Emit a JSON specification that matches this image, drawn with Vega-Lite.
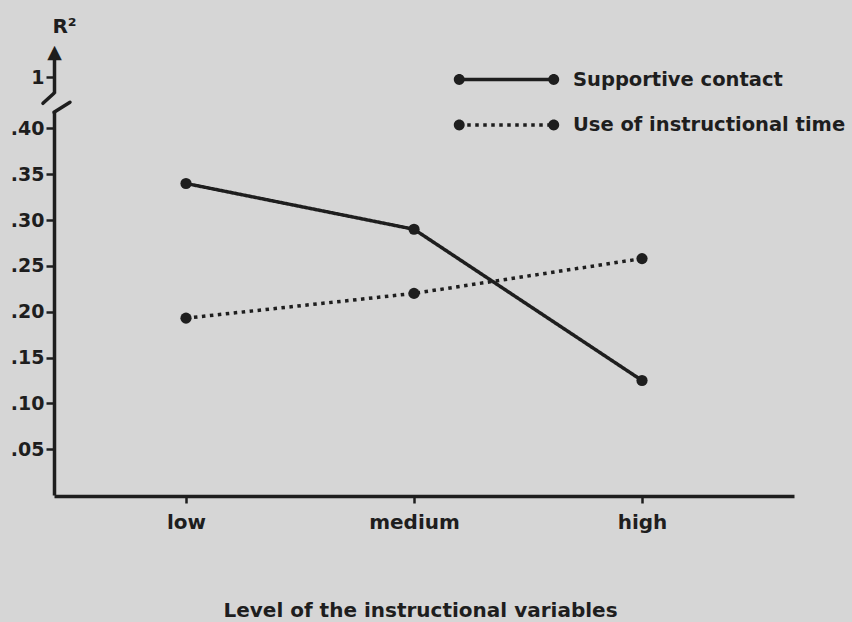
{
  "$schema": "https://vega.github.io/schema/vega-lite/v6.json",
  "width": 740,
  "height": 455,
  "autosize": {"type": "none"},
  "padding": {"left": 54, "top": 40, "right": 58, "bottom": 127},
  "background": "#d6d6d6",
  "config": {"view": {"stroke": null}, "font": "DejaVu Sans"},
  "data": {
    "values": [
      {"level": "low", "variable": "Supportive contact", "r2": 0.34},
      {"level": "medium", "variable": "Supportive contact", "r2": 0.29},
      {"level": "high", "variable": "Supportive contact", "r2": 0.125},
      {"level": "low", "variable": "Use of instructional time", "r2": 0.193},
      {"level": "medium", "variable": "Use of instructional time", "r2": 0.22},
      {"level": "high", "variable": "Use of instructional time", "r2": 0.258}
    ]
  },
  "resolve": {"scale": {"y": "independent", "x": "independent"}, "axis": {"y": "independent", "x": "independent"}},
  "layer": [
    {
      "layer": [
        {
          "mark": {"type": "line", "strokeWidth": 3.5, "color": "#1e1e1e"},
          "encoding": {
            "x": {
              "field": "level",
              "type": "ordinal",
              "sort": ["low", "medium", "high"],
              "scale": {"type": "point", "padding": 0.6228, "align": 0.4648},
              "axis": {
                "title": "Level of the instructional variables",
                "labelAngle": 0,
                "domainWidth": 3.5,
                "domainColor": "#1e1e1e",
                "tickSize": 7,
                "tickWidth": 2.5,
                "tickColor": "#1e1e1e",
                "labelFont": "DejaVu Sans",
                "labelFontSize": 20,
                "labelFontWeight": "bold",
                "labelColor": "#1e1e1e",
                "labelPadding": 9,
                "titleFont": "DejaVu Sans",
                "titleFontSize": 20,
                "titleFontWeight": "bold",
                "titleColor": "#1e1e1e",
                "titleX": 366,
                "titleY": 120,
                "titleBaseline": "alphabetic",
                "titleAlign": "center",
                "offset": 1
              }
            },
            "y": {
              "field": "r2",
              "type": "quantitative",
              "scale": {"domain": [0, 0.418], "range": [455, 72], "nice": false, "zero": false},
              "axis": {
                "orient": "left",
                "values": [0.05, 0.1, 0.15, 0.2, 0.25, 0.3, 0.35, 0.4],
                "labelExpr": "substring(format(datum.value, '.2f'), 1)",
                "grid": false,
                "domainWidth": 3.5,
                "domainColor": "#1e1e1e",
                "tickSize": 8,
                "tickWidth": 2.5,
                "tickColor": "#1e1e1e",
                "labelFont": "DejaVu Sans",
                "labelFontSize": 19,
                "labelFontWeight": "bold",
                "labelColor": "#1e1e1e",
                "labelPadding": 2,
                "labelOverlap": false,
                "labelFlush": false,
                "title": "R²",
                "titleAngle": 0,
                "titleX": 10,
                "titleY": -8,
                "titleAlign": "center",
                "titleBaseline": "alphabetic",
                "titleFont": "DejaVu Sans",
                "titleFontSize": 20,
                "titleFontWeight": "bold",
                "titleColor": "#1e1e1e"
              }
            },
            "strokeDash": {
              "field": "variable",
              "type": "nominal",
              "scale": {
                "domain": ["Supportive contact", "Use of instructional time"],
                "range": [[1, 0], [3.5, 4.5]]
              },
              "legend": {
                "orient": "none",
                "legendX": 440,
                "legendY": 27,
                "title": null,
                "symbolType": "M-4.5,0L4.5,0",
                "symbolSize": 441,
                "symbolStrokeWidth": 3.5,
                "symbolStrokeColor": "#1e1e1e",
                "labelFont": "DejaVu Sans",
                "labelFontSize": 19.5,
                "labelFontWeight": "bold",
                "labelColor": "#1e1e1e",
                "labelOffset": 54,
                "labelLimit": 500,
                "rowPadding": 23.5,
                "padding": 0
              }
            }
          }
        },
        {
          "mark": {"type": "point", "filled": true, "size": 125, "color": "#1e1e1e", "opacity": 1},
          "encoding": {
            "x": {"field": "level", "type": "ordinal", "sort": ["low", "medium", "high"]},
            "y": {"field": "r2", "type": "quantitative"},
            "detail": {"field": "variable"}
          }
        },
        {
          "mark": {"type": "point", "filled": true, "color": "#1e1e1e", "opacity": 0},
          "encoding": {
            "x": {"field": "level", "type": "ordinal", "sort": ["low", "medium", "high"]},
            "y": {"field": "r2", "type": "quantitative"},
            "shape": {
              "field": "variable",
              "type": "nominal",
              "scale": {
                "domain": ["Use of instructional time", "Supportive contact"],
                "range": [
                  "M-3.98,0A0.52,0.52,0,1,1,-5.02,0A0.52,0.52,0,1,1,-3.98,0ZM5.02,0A0.52,0.52,0,1,1,3.98,0A0.52,0.52,0,1,1,5.02,0Z",
                  "M-3.98,0A0.52,0.52,0,1,1,-5.02,0A0.52,0.52,0,1,1,-3.98,0ZM5.02,0A0.52,0.52,0,1,1,3.98,0A0.52,0.52,0,1,1,5.02,0Z"
                ]
              },
              "legend": {
                "orient": "none",
                "legendX": 440,
                "legendY": 27,
                "title": null,
                "symbolSize": 441,
                "symbolOpacity": 1,
                "symbolFillColor": "#1e1e1e",
                "symbolStrokeColor": "#1e1e1e",
                "symbolStrokeWidth": 3.5,
                "labelExpr": "''",
                "labelFont": "DejaVu Sans",
                "labelFontSize": 19.5,
                "labelFontWeight": "bold",
                "labelColor": "#1e1e1e",
                "labelOffset": 54,
                "labelLimit": 500,
                "rowPadding": 20.5,
                "padding": 0
              }
            }
          }
        }
      ]
    },
    {
      "mark": {"type": "rule", "opacity": 0},
      "encoding": {
        "y": {
          "datum": 1,
          "type": "quantitative",
          "scale": {"domain": [0.9, 1.17], "range": [53, 10], "nice": false, "zero": false},
          "axis": {
            "orient": "left",
            "values": [1, 1.16],
            "labelExpr": "datum.value == 1 ? '1' : '▲'",
            "grid": false,
            "domainWidth": 3.5,
            "domainColor": "#1e1e1e",
            "tickSize": 8,
            "tickWidth": 2.5,
            "tickColor": "#1e1e1e",
            "tickOpacity": {"condition": {"test": "datum.value > 1.05", "value": 0}, "value": 1},
            "labelAlign": {"condition": {"test": "datum.value > 1.05", "value": "center"}, "value": "right"},
            "labelPadding": {"condition": {"test": "datum.value > 1.05", "value": -8}, "value": 2},
            "labelBaseline": "middle",
            "labelFont": "DejaVu Sans",
            "labelFontSize": 19,
            "labelFontWeight": "bold",
            "labelColor": "#1e1e1e",
            "labelOverlap": false,
            "labelFlush": false,
            "title": null
          }
        }
      }
    },
    {
      "data": {"values": [{}]},
      "layer": [
        {
          "mark": {"type": "rule", "strokeWidth": 3.5, "color": "#1e1e1e", "strokeCap": "round"},
          "encoding": {
            "x": {"datum": 0, "type": "quantitative", "scale": {"domain": [0, 1], "range": [0, 740]}, "axis": null},
            "x2": {"datum": 0.0216},
            "y": {"datum": 0.4177, "type": "quantitative", "scale": {"domain": [0, 0.418], "range": [455, 72], "nice": false, "zero": false}, "axis": null},
            "y2": {"datum": 0.4286}
          }
        },
        {
          "mark": {"type": "rule", "strokeWidth": 3.5, "color": "#1e1e1e", "strokeCap": "round"},
          "encoding": {
            "x": {"datum": 0, "type": "quantitative"},
            "x2": {"datum": -0.0149},
            "y": {"datum": 0.4384, "type": "quantitative"},
            "y2": {"datum": 0.4275}
          }
        }
      ]
    }
  ]
}
